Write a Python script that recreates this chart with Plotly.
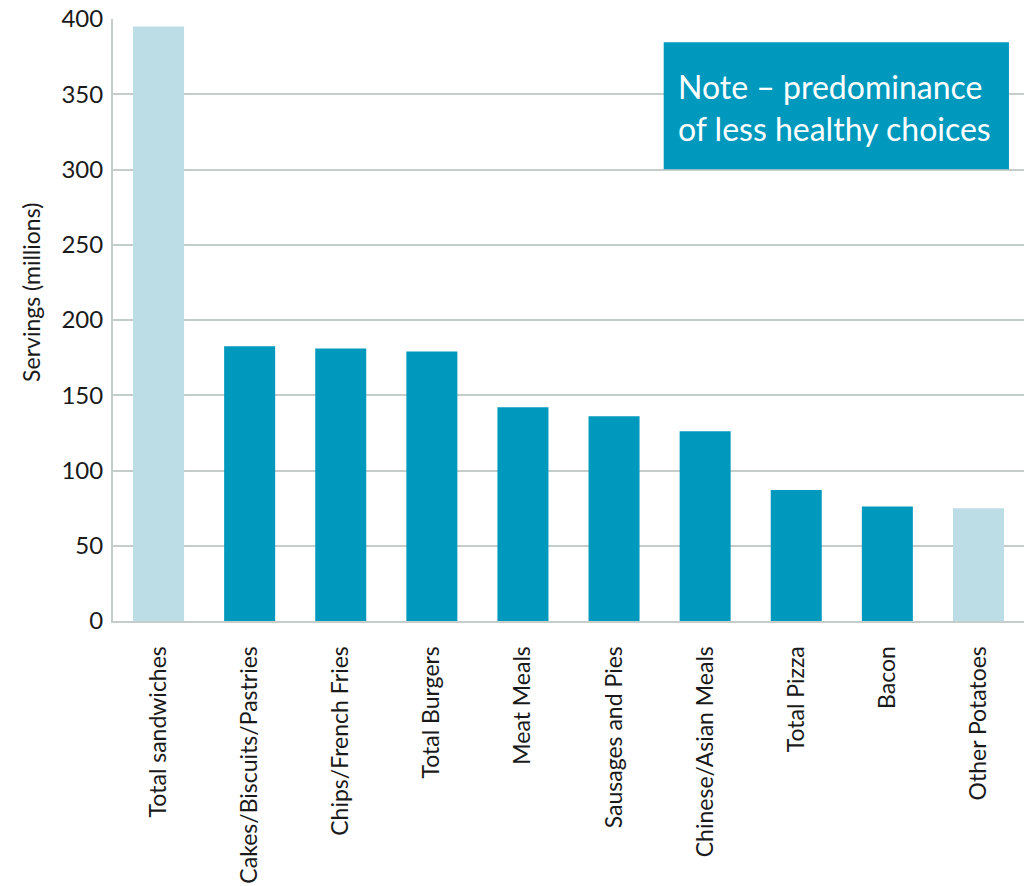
import plotly.graph_objects as go

categories = ["Total sandwiches", "Cakes/Biscuits/Pastries", "Chips/French Fries",
              "Total Burgers", "Meat Meals", "Sausages and Pies", "Chinese/Asian Meals",
              "Total Pizza", "Bacon", "Other Potatoes"]
servings = [395, 182.5, 181, 179, 142, 136, 126, 87, 76, 75]
highlight = [True, False, False, False, False, False, False, False, False, True]
y_ticks = [0, 50, 100, 150, 200, 250, 300, 350, 400]

DARK = "#0099be"
LIGHT = "#bcdde5"
GRID = "#c5cdca"
FONT = "Lato, 'Open Sans', sans-serif"

colors = [LIGHT if h else DARK for h in highlight]

fig = go.Figure(go.Bar(x=categories, y=servings, marker=dict(color=colors, line=dict(width=0)),
                       hoverinfo="x+y"))

fig.update_layout(
    width=1029, height=886,
    margin=dict(l=113, r=5, t=19, b=265),
    plot_bgcolor="white", paper_bgcolor="white",
    bargap=0.44,
    showlegend=False,
    font=dict(family=FONT, color="#1a1a1a"),
)
fig.update_xaxes(
    tickangle=-90, tickfont=dict(size=23, family=FONT, color="#1a1a1a"),
    showline=True, linecolor=GRID, linewidth=2, showgrid=False, automargin=False,
    ticks="", ticklabelstandoff=14, range=[-0.5, 9.5],
)
fig.update_yaxes(
    range=[0, 400], tickvals=y_ticks, tickfont=dict(size=24, family=FONT, color="#1a1a1a"),
    showline=True, linecolor=GRID, linewidth=2, showgrid=True, gridcolor=GRID, gridwidth=2,
    zeroline=False, ticks="", ticklabelstandoff=3, automargin=False,
)

fig.add_annotation(xref="paper", yref="y", x=0, y=218, xanchor="center", yanchor="middle",
                   xshift=-82, textangle=-90, text="Servings (millions)", showarrow=False,
                   font=dict(size=23, family=FONT, color="#1a1a1a"))

fig.add_shape(type="rect", xref="x", yref="y", x0=5.545, x1=9.335, y0=300.2, y1=384.6,
              fillcolor=DARK, line=dict(width=0), layer="above")
fig.add_annotation(xref="x", yref="y", x=5.675, y=341.5, xanchor="left", yanchor="middle",
                   text="Note – predominance<br>of less healthy choices", showarrow=False,
                   align="left", font=dict(size=32, family=FONT, color="white"))

fig.write_html("out.html")
